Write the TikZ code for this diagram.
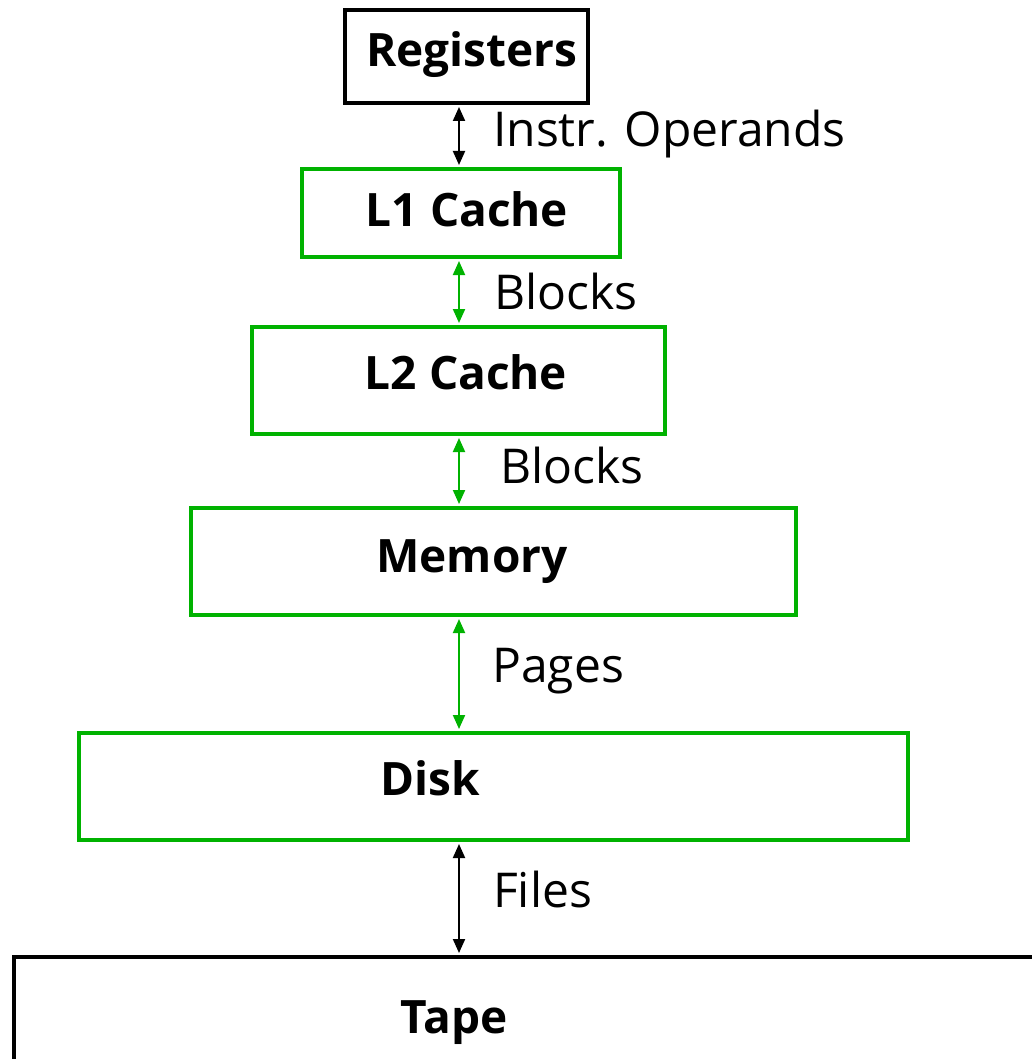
\documentclass[tikz,border=0pt]{standalone}
\usepackage{fontspec}
\setmainfont{Open Sans}
\usetikzlibrary{arrows.meta,calc}
\definecolor{cgreen}{RGB}{0,178,0}
\tikzset{
  box/.style={draw, line width=4pt, rectangle, inner sep=0pt, anchor=north west},
  gbox/.style={box, draw=cgreen},
  bbox/.style={box, draw=black},
  lvl/.style={font=\fontsize{46}{50}\selectfont\bfseries, anchor=base, inner sep=0pt},
  lab/.style={font=\fontsize{48}{52}\selectfont, anchor=base west, inner sep=0pt},
  link/.style={line width=2pt, {Triangle[length=14pt,width=12pt]}-{Triangle[length=14pt,width=12pt]}},
}
\begin{document}
\begin{tikzpicture}[x=1pt,y=-1pt]
\useasboundingbox (0,0) rectangle (1032,1059);
\clip (0,0) rectangle (1032,1059);
\node[bbox, minimum width=243pt, minimum height=93pt] (reg) at (343,8) {};
\node[gbox, minimum width=318pt, minimum height=88pt] (l1) at (300,167) {};
\node[gbox, minimum width=413pt, minimum height=107pt] (l2) at (250,325) {};
\node[gbox, minimum width=605pt, minimum height=107pt] (mem) at (189,506) {};
\node[gbox, minimum width=829pt, minimum height=107pt] (disk) at (77,731) {};
\node[bbox, minimum width=1100pt, minimum height=200pt] (tape) at (12,955) {};

\node[lvl] (treg) at (472,67) {Registers};
\node[lvl] (tl1) at (467,227) {L1 Cache};
\node[lvl] (tl2) at (466,389) {L2 Cache};
\node[lvl] (tmem) at (472,572) {Memory};
\node[lvl] (tdisk) at (430,795) {Disk};
\node[lvl] (ttape) at (454,1033) {Tape};

\coordinate (ax) at (459,0);
\draw[link, black] ($(reg.south -| ax)+(0,2)$) -- ($(l1.north -| ax)+(0,-2)$);
\draw[link, cgreen] ($(l1.south -| ax)+(0,2)$) -- ($(l2.north -| ax)+(0,-2)$);
\draw[link, cgreen] ($(l2.south -| ax)+(0,2)$) -- ($(mem.north -| ax)+(0,-2)$);
\draw[link, cgreen] ($(mem.south -| ax)+(0,2)$) -- ($(disk.north -| ax)+(0,-2)$);
\draw[link, black] ($(disk.south -| ax)+(0,2)$) -- ($(tape.north -| ax)+(0,-2)$);

\node[lab] (lio) at (493,147) {Instr. Operands};
\node[lab] (lb1) at (494,309) {Blocks};
\node[lab] (lb2) at (500,483) {Blocks};
\node[lab] (lpg) at (492,682) {Pages};
\node[lab] (lfi) at (493,907) {Files};
\end{tikzpicture}
\end{document}
